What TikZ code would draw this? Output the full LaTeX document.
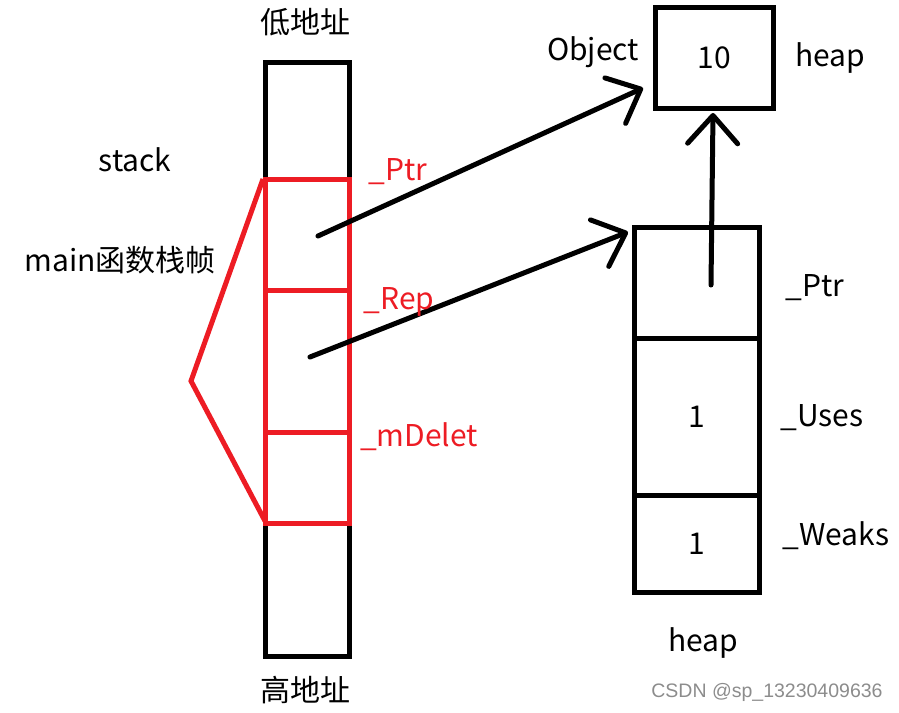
\documentclass[tikz,border=0pt]{standalone}
\usepackage{fontspec}
\setmainfont{Noto Sans CJK SC}
\newfontfamily\wmfont{Liberation Sans}
\usetikzlibrary{arrows.meta}
\definecolor{myred}{RGB}{237,28,36}
\tikzset{
  blackbox/.style={draw=black,line width=5pt,minimum width=#1,inner sep=0pt},
  redbox/.style={draw=myred,line width=5pt,inner sep=0pt},
  bigtxt/.style={font=\fontsize{30}{34}\selectfont},
  lbl/.style={bigtxt,text=black,inner sep=0pt},
  redlbl/.style={bigtxt,text=myred,inner sep=0pt},
  ptr/.style={line width=5pt,line cap=round,-{Straight Barb[length=28pt,width=50pt,line cap=round,line join=round]}},
}
\begin{document}
\begin{tikzpicture}[x=1pt,y=-1pt]
\useasboundingbox (0,0) rectangle (899,712);
% stack column
\node[blackbox=84pt,minimum height=594pt] (stack) at (307,359) {};
% red frame cells
\node[redbox,minimum width=84pt,minimum height=111pt] (cptr) at (307,234.5) {};
\node[redbox,minimum width=84pt,minimum height=142pt] (crep) at (307,361) {};
\node[redbox,minimum width=84pt,minimum height=91pt] (cdel) at (307,477.5) {};
\coordinate (fa) at (263,179);
\coordinate (fb) at (191,381);
\coordinate (fc) at (265,521);
\draw[myred,line width=5pt,line join=miter] (fa) -- (fb) -- (fc);
% object box
\node[blackbox=118pt,minimum height=101pt,bigtxt] (obj) at (714,57.5) {10};
% heap column
\node[blackbox=125pt,minimum height=111pt] (hptr) at (696.5,282.5) {};
\node[blackbox=125pt,minimum height=157pt,bigtxt] (huses) at (696.5,416.5) {1};
\node[blackbox=125pt,minimum height=97pt,bigtxt] (hweaks) at (696.5,543.5) {1};
% arrows
\coordinate (s1) at (318,236);
\coordinate (t1) at (643,88);
\coordinate (s2) at (310,357);
\coordinate (t2) at (628,232);
\coordinate (s3) at (711,285);
\coordinate (t3) at (713,113);
\draw[ptr] (s1) -- (t1);
\draw[ptr] (s2) -- (t2);
\draw[ptr] (s3) -- (t3);
% labels
\node[lbl] (lo) at (305,22) {低地址};
\node[lbl] (hi) at (305,690) {高地址};
\node[lbl] (stk) at (135,160) {stack};
\node[lbl] (mainf) at (120,260) {main函数栈帧};
\node[lbl] (objl) at (593,52) {Object};
\node[lbl] (heap1) at (830,58) {heap};
\node[lbl] (heap2) at (703,643) {heap};
\node[lbl] (lptr) at (815,288) {\_Ptr};
\node[lbl] (luses) at (822,418) {\_Uses};
\node[lbl] (lweaks) at (836,536) {\_Weaks};
\node[redlbl] (rptr) at (398,172) {\_Ptr};
\node[redlbl] (rrep) at (399,302) {\_Rep};
\node[redlbl] (rdel) at (419,437) {\_mDelet};
\node[font=\wmfont\fontsize{19.5}{22}\selectfont,text=black!45,inner sep=0pt] (wm) at (767,692) {CSDN @sp\_13230409636};
\end{tikzpicture}
\end{document}
